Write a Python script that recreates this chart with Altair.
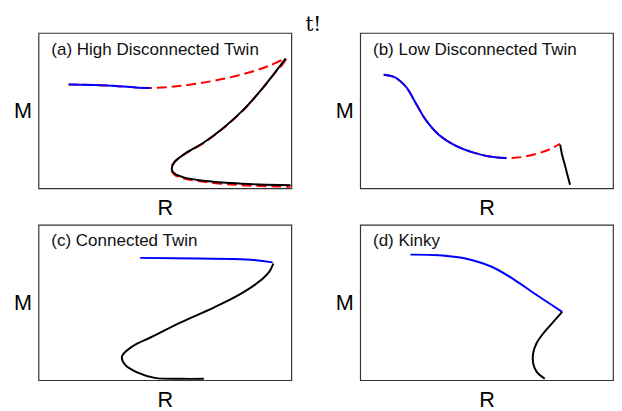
import altair as alt
import pandas as pd

# ---- Panel (a) High Disconnected Twin ----
a_blue_R = [11.9, 21.4, 30.5, 39.5, 44.1]
a_blue_M = [66.9, 66.5, 65.9, 64.8, 64.6]
a_red_R = [11.9, 21.4, 30.5, 39.5, 44.1, 52.4, 62.8, 73.2, 83.5, 91.3, 97.8, 92.6, 87.4, 81.0, 73.2, 65.4, 57.7, 53.6, 52.4, 53.8, 58.9, 69.3, 82.2, 99.7]
a_red_M = [66.9, 66.5, 65.9, 64.8, 64.6, 65.3, 67.4, 70.5, 74.7, 78.9, 83.1, 72.4, 61.9, 50.3, 38.8, 29.3, 21.9, 16.7, 12.8, 8.7, 5.9, 3.5, 1.9, 1.0]
a_black_R = [97.8, 92.6, 87.4, 81.0, 73.2, 65.4, 57.7, 53.8, 52.7, 53.8, 57.7, 65.4, 75.8, 87.4, 99.7]
a_black_M = [83.6, 72.6, 62.1, 50.5, 39.0, 29.5, 22.1, 16.9, 12.6, 9.5, 6.9, 4.9, 3.4, 2.5, 2.1]

# ---- Panel (b) Low Disconnected Twin ----
b_blue_R = [9.3, 13.6, 18.2, 22.1, 26.0, 31.2, 37.7, 44.2, 50.6, 57.8]
b_blue_M = [73.1, 71.5, 65.1, 54.5, 43.9, 34.4, 27.5, 23.3, 20.7, 19.5]
b_red_R = [9.3, 13.6, 18.2, 22.1, 26.0, 31.2, 37.7, 44.2, 50.6, 57.8, 63.7, 70.1, 75.3, 79.0]
b_red_M = [73.1, 71.5, 65.1, 54.5, 43.9, 34.4, 27.5, 23.3, 20.7, 19.5, 20.1, 22.4, 25.4, 28.7]
b_black_R = [79.1, 79.8, 80.8, 82.0, 83.0]
b_black_M = [28.1, 22.0, 16.0, 8.5, 2.3]

# ---- Panel (c) Connected Twin ----
c_blue_R = [40.2, 62.8, 82.2, 92.6]
c_blue_M = [78.7, 78.3, 77.7, 75.8]
c_black_R = [92.9, 91.3, 87.4, 79.6, 69.3, 56.3, 44.7, 36.9, 33.0, 34.3, 39.5, 46.0, 56.3, 65.4]
c_black_M = [75.1, 69.9, 63.6, 55.2, 46.7, 37.2, 27.8, 21.5, 15.2, 9.9, 4.7, 1.5, 0.9, 0.9]

# ---- Panel (d) Kinky ----
d_blue_R = [19.9, 31.2, 41.6, 52.0, 61.0, 70.1, 79.9]
d_blue_M = [80.8, 80.4, 78.3, 73.0, 64.6, 54.5, 44.0]
d_black_R = [79.9, 76.2, 72.3, 69.7, 68.4, 68.4, 69.7, 73.0]
d_black_M = [44.0, 37.2, 29.9, 23.6, 17.3, 11.0, 5.7, 0.9]

labels = ["(a) High Disconnected Twin", "(b) Low Disconnected Twin",
          "(c) Connected Twin", "(d) Kinky"]

W, H = 257, 158


def frame(R, M):
    return pd.DataFrame({"R": R, "M": M, "i": list(range(len(R)))})


def curve(R, M, color, dash=None):
    kw = dict(color=color, strokeWidth=2, interpolate="catmull-rom", clip=True)
    if dash:
        kw["strokeDash"] = dash
    return alt.Chart(frame(R, M)).mark_line(**kw).encode(
        x=alt.X("R:Q", scale=alt.Scale(domain=[0, 100], nice=False),
                axis=alt.Axis(title="R", labels=False, ticks=False, domain=False,
                              grid=False, titleFontSize=22, titleFontWeight="normal",
                              titlePadding=10, titleFont="Liberation Sans",
                              titleColor="#000")),
        y=alt.Y("M:Q", scale=alt.Scale(domain=[0, 100], nice=False),
                axis=alt.Axis(title="M", labels=False, ticks=False, domain=False,
                              grid=False, titleFontSize=22, titleFontWeight="normal",
                              titleAngle=0, titleAlign="right", titleBaseline="middle",
                              titlePadding=7, titleFont="Liberation Sans",
                              titleColor="#000")),
        order="i:Q",
    )


def label(text):
    return alt.Chart(pd.DataFrame({"t": [text]})).mark_text(
        align="left", baseline="alphabetic", fontSize=17.3, font="Liberation Sans",
        color="#111"
    ).encode(x=alt.value(13), y=alt.value(22), text="t:N")


def panel(layers, text):
    return alt.layer(*layers, label(text)).properties(width=W, height=H)


pa = panel([curve(a_red_R, a_red_M, "#ff0000", [10, 5]),
            curve(a_blue_R, a_blue_M, "#0000ff"),
            curve(a_black_R, a_black_M, "#000000")], labels[0])
pb = panel([curve(b_red_R, b_red_M, "#ff0000", [10, 5]),
            curve(b_blue_R, b_blue_M, "#0000ff"),
            curve(b_black_R, b_black_M, "#000000")], labels[1])
pc = panel([curve(c_blue_R, c_blue_M, "#0000ff"),
            curve(c_black_R, c_black_M, "#000000")], labels[2])
pd_ = panel([curve(d_blue_R, d_blue_M, "#0000ff"),
             curve(d_black_R, d_black_M, "#000000")], labels[3])

chart = alt.vconcat(
    alt.hconcat(pa, pb, spacing=43),
    alt.hconcat(pc, pd_, spacing=43),
    spacing=4,
).properties(
    title=alt.TitleParams("t!", font="DejaVu Serif", fontSize=20,
                          fontWeight="normal", anchor="middle", offset=-2.5,
                          color="#000"),
    padding={"left": 5, "top": 3, "right": 0, "bottom": 0},
).configure(background="white").configure_view(stroke="#333", strokeWidth=1.2)

chart.save("out.html", embed_options={"renderer": "svg", "actions": False})
